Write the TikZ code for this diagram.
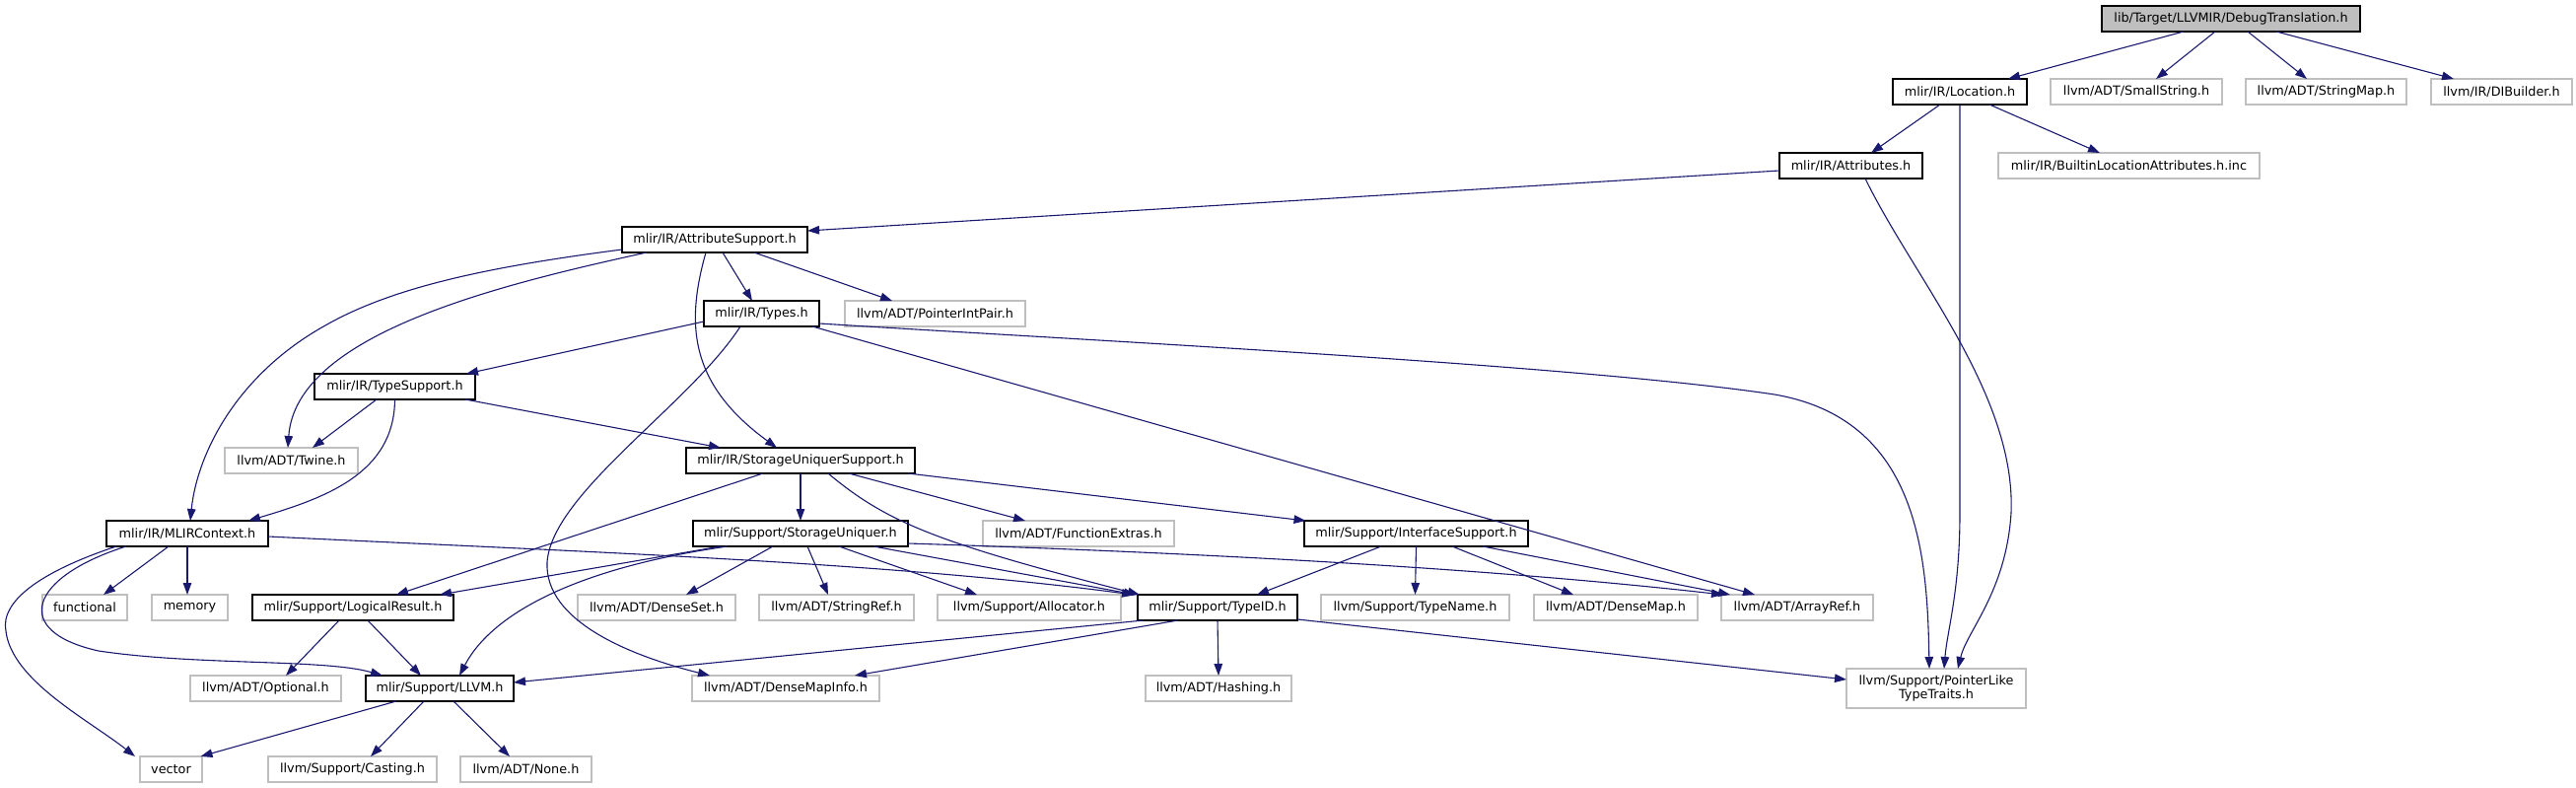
\documentclass[tikz,border=0pt]{standalone}
\usepackage{fontspec}
\setmainfont{DejaVu Sans}
\usetikzlibrary{arrows.meta}
\definecolor{edgec}{HTML}{191970}
\definecolor{lgray}{HTML}{BFBFBF}
\definecolor{fillg}{HTML}{BFBFBF}
\tikzset{
  nd/.style={draw=black, line width=1.1pt, fill=white, minimum height=26pt, inner xsep=3pt, inner ysep=0pt, outer sep=0pt, font=\fontsize{12.8}{14.5}\selectfont, text=black},
  ext/.style={nd, draw=lgray, line width=1.1pt},
  dep/.style={draw=edgec, line width=1.1pt, -{Triangle[length=12pt,width=8.5pt]}},
}
\begin{document}
\begin{tikzpicture}[x=1pt,y=-1pt]
\useasboundingbox (0,0) rectangle (2613,799);
\fill[white] (0,0) rectangle (2613,799);
% nodes
\node[nd, fill=fillg, minimum width=262pt] (dbg) at (2263,19) {lib/Target/LLVMIR/DebugTranslation.h};
\node[nd, minimum width=136pt] (loc) at (1988,93) {mlir/IR/Location.h};
\node[ext, minimum width=174pt] (smallstr) at (2167,93) {llvm/ADT/SmallString.h};
\node[ext, minimum width=163pt] (strmap) at (2359.5,93) {llvm/ADT/StringMap.h};
\node[ext, minimum width=143pt] (dibuilder) at (2537.5,93) {llvm/IR/DIBuilder.h};
\node[nd, minimum width=145pt] (attrs) at (1877.5,168) {mlir/IR/Attributes.h};
\node[ext, minimum width=265pt] (bla) at (2159.5,168) {mlir/IR/BuiltinLocationAttributes.h.inc};
\node[nd, minimum width=188pt] (attrsup) at (725,243) {mlir/IR/AttributeSupport.h};
\node[nd, minimum width=117pt] (types) at (772.5,318) {mlir/IR/Types.h};
\node[ext, minimum width=183pt] (pip) at (948.5,318) {llvm/ADT/PointerIntPair.h};
\node[nd, minimum width=163pt] (typesup) at (400.5,392) {mlir/IR/TypeSupport.h};
\node[ext, minimum width=135pt] (twine) at (295.5,467) {llvm/ADT/Twine.h};
\node[nd, minimum width=232pt] (sus) at (812,467) {mlir/IR/StorageUniquerSupport.h};
\node[nd, minimum width=164pt] (ctx) at (190,541) {mlir/IR/MLIRContext.h};
\node[nd, minimum width=218pt] (su) at (812,541) {mlir/Support/StorageUniquer.h};
\node[ext, minimum width=194pt] (fextras) at (1094,541) {llvm/ADT/FunctionExtras.h};
\node[nd, minimum width=227pt] (isup) at (1436.5,541) {mlir/Support/InterfaceSupport.h};
\node[ext, minimum width=86pt] (functional) at (86,616) {functional};
\node[ext, minimum width=77pt] (memory) at (192.5,616) {memory};
\node[nd, minimum width=204pt] (lres) at (358,616) {mlir/Support/LogicalResult.h};
\node[ext, minimum width=160pt] (denseset) at (666,616) {llvm/ADT/DenseSet.h};
\node[ext, minimum width=157pt] (stringref) at (848.5,616) {llvm/ADT/StringRef.h};
\node[ext, minimum width=186pt] (alloc) at (1044,616) {llvm/Support/Allocator.h};
\node[nd, minimum width=162pt] (typeid) at (1235,616) {mlir/Support/TypeID.h};
\node[ext, minimum width=191pt] (typename) at (1435.5,616) {llvm/Support/TypeName.h};
\node[ext, minimum width=166pt] (densemap) at (1639,616) {llvm/ADT/DenseMap.h};
\node[ext, minimum width=154pt] (arrayref) at (1823,616) {llvm/ADT/ArrayRef.h};
\node[ext, minimum width=153pt] (optional) at (269.5,698) {llvm/ADT/Optional.h};
\node[nd, minimum width=150pt] (llvmh) at (446,698) {mlir/Support/LLVM.h};
\node[ext, minimum width=190pt] (dmi) at (797,698) {llvm/ADT/DenseMapInfo.h};
\node[ext, minimum width=148pt] (hashing) at (1236,698) {llvm/ADT/Hashing.h};
\node[ext, minimum width=182pt, minimum height=40pt, align=center] (plt) at (1964,698) {llvm/Support/PointerLike\\TypeTraits.h};
\node[ext, minimum width=63pt] (vector) at (173.5,780) {vector};
\node[ext, minimum width=171pt] (casting) at (357.5,780) {llvm/Support/Casting.h};
\node[ext, minimum width=133pt] (none) at (533.5,780) {llvm/ADT/None.h};
% edges
\draw[dep] ([xshift=-48pt]dbg.south) -- ([xshift=49pt]loc.north);
\draw[dep] ([xshift=-16pt]dbg.south) -- ([xshift=20pt]smallstr.north);
\draw[dep] ([xshift=17pt]dbg.south) -- ([xshift=-19.5pt]strmap.north);
\draw[dep] ([xshift=46pt]dbg.south) -- ([xshift=-48.5pt]dibuilder.north);
\draw[dep] ([xshift=-20pt]loc.south) -- ([xshift=20.5pt]attrs.north);
\draw[dep] ([xshift=30pt]loc.south) -- ([xshift=-29.5pt]bla.north);
\draw[dep] (loc.south) -- (1988,520) .. controls (1988,600) and (1975,640) .. ([xshift=8pt]plt.north);
\draw[dep] ([yshift=-5pt]attrs.west) -- ([yshift=9pt]attrsup.east);
\draw[dep] ([xshift=14.5pt]attrs.south) .. controls (1940,280) and (2045,400) .. (2040,520) .. controls (2035,600) and (1995,640) .. ([xshift=22pt]plt.north);
\draw[dep] ([yshift=-10pt]types.east) .. controls (1100,345) and (1600,370) .. (1800,400) .. controls (1945,425) and (1955,560) .. ([xshift=-7pt]plt.north);
\draw[dep] ([xshift=51.5pt]types.south) -- ([xshift=-43pt]arrayref.north);
\draw[dep] ([yshift=-8pt]types.west) -- ([xshift=72.5pt]typesup.north);
\draw[dep] ([xshift=-21.5pt]types.south) .. controls (700,410) and (560,500) .. (555,570) .. controls (552,630) and (640,665) .. ([xshift=-77pt]dmi.north);
\draw[dep] ([xshift=8pt]attrsup.south) -- ([xshift=-9.5pt]types.north);
\draw[dep] ([xshift=40pt]attrsup.south) -- ([xshift=-43.5pt]pip.north);
\draw[dep] ([xshift=-9pt]attrsup.south) .. controls (695,330) and (700,390) .. ([xshift=-24pt]sus.north);
\draw[dep] ([yshift=-10pt]attrsup.west) .. controls (500,270) and (400,290) .. (330,330) .. controls (240,380) and (200,460) .. ([xshift=3pt]ctx.north);
\draw[dep] ([xshift=-69pt]attrsup.south) .. controls (500,290) and (300,340) .. ([xshift=-3.5pt]twine.north);
\draw[dep] ([xshift=-18.5pt]typesup.south) -- ([xshift=21.5pt]twine.north);
\draw[dep] (typesup.south) .. controls (400,480) and (330,505) .. ([xshift=62pt]ctx.north);
\draw[dep] ([xshift=71.5pt]typesup.south) -- ([xshift=-81pt]sus.north);
\draw[dep] (sus.south) -- (su.north);
\draw[dep] ([xshift=49pt]sus.south) -- ([xshift=-54pt]fextras.north);
\draw[dep] ([xshift=109pt]sus.south) -- ([xshift=-112pt]isup.north);
\draw[dep] ([xshift=-38pt]sus.south) -- ([xshift=44pt]lres.north);
\draw[dep] ([xshift=28pt]sus.south) .. controls (900,530) and (950,550) .. ([xshift=-79pt]typeid.north);
\draw[dep] ([xshift=-19pt]ctx.south) -- ([xshift=19pt]functional.north);
\draw[dep] (ctx.south) -- ([xshift=-2.5pt]memory.north);
\draw[dep] ([yshift=-3pt]ctx.east) .. controls (600,560) and (900,570) .. ([xshift=-85pt]typeid.north);
\draw[dep] ([xshift=-62pt]ctx.south) .. controls (30,585) and (10,640) .. (100,660) .. controls (200,675) and (330,668) .. ([xshift=-58pt]llvmh.north);
\draw[dep] ([xshift=-72pt]ctx.south) .. controls (40,580) and (0,610) .. (6,640) .. controls (12,690) and (90,730) .. ([xshift=-36.5pt]vector.north);
\draw[dep] ([xshift=-81pt]su.south) -- ([xshift=88pt]lres.north);
\draw[dep] ([xshift=-74pt]su.south) .. controls (590,575) and (500,620) .. ([xshift=20pt]llvmh.north);
\draw[dep] ([xshift=-28pt]su.south) -- ([xshift=30pt]denseset.north);
\draw[dep] ([xshift=7pt]su.south) -- ([xshift=-8.5pt]stringref.north);
\draw[dep] ([xshift=39pt]su.south) -- ([xshift=-53pt]alloc.north);
\draw[dep] ([xshift=74pt]su.south) -- ([xshift=-83pt]typeid.north);
\draw[dep] ([yshift=-10pt]su.east) .. controls (1200,560) and (1500,575) .. ([xshift=-75pt]arrayref.north);
\draw[dep] ([xshift=-35.5pt]isup.south) -- ([xshift=40pt]typeid.north);
\draw[dep] (isup.south) -- (typename.north);
\draw[dep] ([xshift=36.5pt]isup.south) -- ([xshift=-43pt]densemap.north);
\draw[dep] ([xshift=67.5pt]isup.south) -- ([xshift=-68pt]arrayref.north);
\draw[dep] ([xshift=-14pt]lres.south) -- ([xshift=20.5pt]optional.north);
\draw[dep] ([xshift=15pt]lres.south) -- ([xshift=-19pt]llvmh.north);
\draw[dep] ([xshift=-75pt]typeid.south) -- ([yshift=6pt]llvmh.east);
\draw[dep] ([xshift=-40pt]typeid.south) -- ([xshift=70pt]dmi.north);
\draw[dep] (typeid.south) -- (hashing.north);
\draw[dep] ([yshift=-12pt]typeid.east) -- ([yshift=9pt]plt.west);
\draw[dep] ([xshift=-44pt]llvmh.south) -- ([xshift=30pt]vector.north);
\draw[dep] ([xshift=-16pt]llvmh.south) -- ([xshift=18.5pt]casting.north);
\draw[dep] ([xshift=14pt]llvmh.south) -- ([xshift=-16.5pt]none.north);
\end{tikzpicture}
\end{document}
